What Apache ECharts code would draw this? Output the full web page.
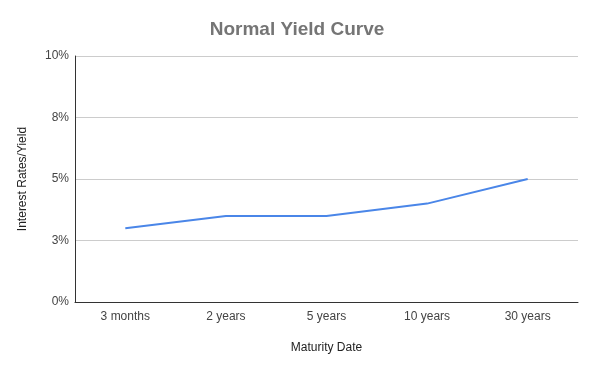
<!DOCTYPE html>
<html><head><meta charset="utf-8">
<script src="https://cdn.jsdelivr.net/npm/echarts@6/dist/echarts.min.js"></script>
<style>html,body{margin:0;padding:0;background:#fff}#c{width:594px;height:368px}</style>
</head><body><div id="c"></div>
<script>
const categories = ['3 months', '2 years', '5 years', '10 years', '30 years'];
const yieldValues = [3, 3.5, 3.5, 4, 5];
const yTicks = [0, 2.5, 5, 7.5, 10];

const chart = echarts.init(document.getElementById('c'), null, {renderer: 'canvas'});
chart.setOption({
  animation: false,
  backgroundColor: '#fff',
  title: {
    text: 'Normal Yield Curve', left: 'center', top: 15,
    textStyle: {fontFamily: 'Liberation Sans, Arial', fontSize: 19, fontWeight: 'bold', color: '#757575'}
  },
  grid: {left: 75, right: 16, top: 56, bottom: 66},
  xAxis: {
    type: 'category', data: categories, boundaryGap: true,
    name: 'Maturity Date', nameLocation: 'middle', nameGap: 40,
    nameTextStyle: {fontFamily: 'Liberation Sans, Arial', fontSize: 12, color: '#222'},
    axisLine: {lineStyle: {color: '#333', width: 1}},
    axisTick: {show: false},
    axisLabel: {fontFamily: 'Liberation Sans, Arial', fontSize: 12, color: '#444', margin: 9}
  },
  yAxis: {
    type: 'value', min: yTicks[0], max: yTicks[yTicks.length - 1], interval: 2.5,
    name: 'Interest Rates/Yield', nameLocation: 'middle', nameGap: 46, nameRotate: 90,
    nameTextStyle: {fontFamily: 'Liberation Sans, Arial', fontSize: 12, color: '#222'},
    axisLine: {show: true, lineStyle: {color: '#333', width: 1}},
    axisTick: {show: false},
    splitLine: {lineStyle: {color: '#cccccc', width: 1}},
    axisLabel: {fontFamily: 'Liberation Sans, Arial', fontSize: 12, color: '#444', margin: 6,
      formatter: v => Math.round(v) + '%'}
  },
  series: [{
    type: 'line', data: yieldValues, symbol: 'none',
    lineStyle: {color: '#4a86e8', width: 2}
  }]
});
</script></body></html>
